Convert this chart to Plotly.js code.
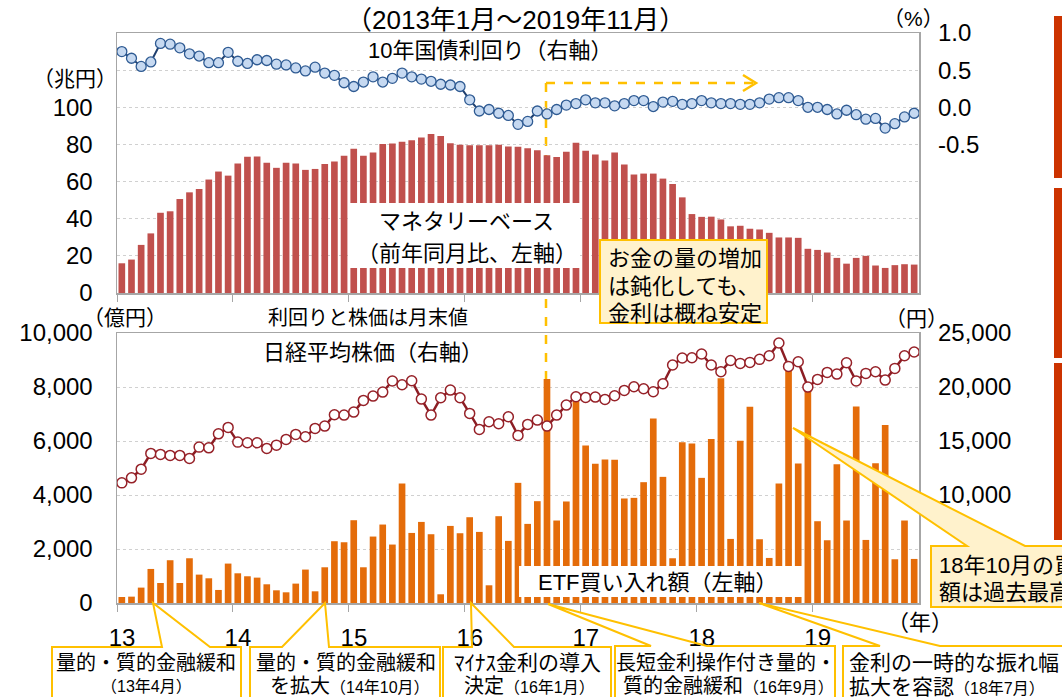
<!DOCTYPE html>
<html><head><meta charset="utf-8">
<script src="https://cdn.plot.ly/plotly-3.0.1.min.js"></script>
<style>html,body{margin:0;padding:0;background:#fff}#chart{width:1062px;height:697px}</style>
</head><body><div id="chart"></div>
<script>
// ---- data ----
const years = [2013, 2014, 2015, 2016, 2017, 2018, 2019];
const yearLabels = ['13', '14', '15', '16', '17', '18', '19'];
const lastMonth2019 = 11;
const months = [];
years.forEach(y => { const n = (y === 2019) ? lastMonth2019 : 12; for (let m = 1; m <= n; m++) months.push(y + '年' + m + '月'); });

// マネタリーベース（前年同月比、兆円） left axis top
const monetaryBase = [
  16.0, 18.0, 25.9, 32.1, 43.2, 44.0, 50.6, 54.2, 56.0, 61.1, 65.4, 63.2,
  69.7, 73.3, 73.5, 70.1, 67.4, 70.1, 69.7, 66.3, 66.8, 69.5, 70.8, 73.9,
  77.7, 73.9, 75.7, 80.2, 80.5, 81.4, 82.3, 83.7, 85.6, 84.5, 80.7, 79.8,
  79.6, 79.5, 79.5, 79.8, 78.9, 78.7, 78.0, 76.9, 74.2, 73.2, 76.0, 80.9,
  76.6, 74.6, 71.4, 75.7, 69.2, 63.8, 64.3, 64.3, 61.6, 58.7, 51.5, 42.5,
  41.0, 41.1, 39.6, 35.9, 36.2, 34.6, 34.2, 32.4, 29.9, 29.9, 29.7, 23.8,
  23.2, 21.8, 18.9, 15.8, 18.9, 20.0, 14.8, 13.5, 15.0, 15.5, 15.3
];
// 10年国債利回り（%） right axis top
const jgb10y = [
  0.75, 0.66, 0.55, 0.61, 0.86, 0.85, 0.80, 0.72, 0.69, 0.60, 0.60, 0.74,
  0.62, 0.59, 0.64, 0.63, 0.58, 0.57, 0.53, 0.49, 0.54, 0.46, 0.43, 0.33,
  0.28, 0.34, 0.41, 0.34, 0.39, 0.46, 0.41, 0.38, 0.35, 0.31, 0.30, 0.28,
  0.10, -0.05, -0.03, -0.08, -0.11, -0.23, -0.19, -0.05, -0.09, -0.03, 0.03, 0.05,
  0.10, 0.06, 0.06, 0.02, 0.05, 0.09, 0.09, 0.01, 0.07, 0.08, 0.04, 0.05,
  0.09, 0.06, 0.05, 0.05, 0.04, 0.04, 0.06, 0.11, 0.13, 0.13, 0.09, 0.00,
  0.00, -0.03, -0.09, -0.04, -0.10, -0.16, -0.15, -0.28, -0.22, -0.13, -0.08
];
// ETF買い入れ額（億円） left axis bottom
const etf = [
  222, 235, 570, 1261, 742, 1584, 742, 1657, 1051, 915, 483, 1460,
  1100, 990, 940, 693, 470, 396, 718, 1238, 433, 1323, 2288, 2250,
  3066, 1323, 2461, 2906, 2165, 4426, 2595, 3003, 2547, 323, 2855, 2584,
  3177, 2633, 656, 3215, 2300, 4450, 2930, 3771, 8295, 3055, 3760, 7468,
  5836, 5154, 5317, 5302, 3871, 3894, 4475, 6837, 4672, 1657, 5958, 5910,
  4635, 6070, 8320, 2373, 6008, 7268, 2361, 1669, 4426, 8603, 5168, 7849,
  3029, 2324, 5143, 3055, 7282, 2336, 5180, 6589, 1620, 3055, 1632
];
// 日経平均株価（円） right axis bottom
const nikkei = [
  11123, 11587, 12393, 13849, 13756, 13663, 13663, 13385, 14433, 14368, 15666, 16259,
  14896, 14833, 14833, 14312, 14618, 15146, 15610, 15394, 16166, 16382, 17430, 17399,
  17677, 18759, 19160, 19531, 20551, 20211, 20582, 18883, 17399, 19003, 19716, 19003,
  17556, 16073, 16778, 16593, 17242, 15517, 16537, 16936, 16380, 17399, 18326, 19095,
  19034, 19065, 18850, 19189, 19683, 20023, 19838, 19559, 20301, 22033, 22682, 22713,
  23053, 22033, 21414, 22450, 22187, 22280, 22558, 22898, 24072, 21909, 22342, 19994,
  20704, 21353, 21198, 22249, 20551, 21261, 21414, 20643, 21724, 22898, 23238
];
const mbTicks = [0, 20, 40, 60, 80, 100, 120];
const mbTickText = ['0', '20', '40', '60', '80', '100', ''];
const jgbTicks = [-0.5, 0, 0.5, 1.0];
const jgbTickText = ['-0.5', '0.0', '0.5', '1.0'];
const etfTicks = [0, 2000, 4000, 6000, 8000, 10000];
const etfTickText = ['0', '2,000', '4,000', '6,000', '8,000', '10,000'];
const nkTicks = [10000, 15000, 20000, 25000];
const nkTickText = ['10,000', '15,000', '20,000', '25,000'];

// ---- layout helpers ----
const W = 1062, H = 697, ML = 117, MR = 143, MT = 33, MB = 94;
const PW = W - ML - MR, PH = H - MT - MB;
const X = px => (px - ML) / PW;
const Y = py => (H - MB - py) / PH;
const F = 'Liberation Sans, Noto Sans CJK JP, sans-serif';
const GOLD = '#ffc000', CREAM = '#fff2cc', AX = '#a6a6a6';

const xIdx = months.map((m, i) => i);
const yearTickVals = years.map((y, k) => k * 12 - 0.5);

const traces = [
  { type: 'bar', x: xIdx, y: monetaryBase, xaxis: 'x2', yaxis: 'y3', marker: { color: '#c0504d' }, hoverinfo: 'skip' },
  { type: 'scatter', mode: 'lines+markers', x: xIdx, y: jgb10y, xaxis: 'x2', yaxis: 'y4',
    line: { color: '#1f3f6e', width: 2 }, marker: { size: 10, color: '#c6d9f1', line: { color: '#2f5b93', width: 1.3 } }, hoverinfo: 'skip' },
  { type: 'bar', x: xIdx, y: etf, xaxis: 'x', yaxis: 'y', marker: { color: '#e46c0a' }, hoverinfo: 'skip' },
  { type: 'scatter', mode: 'lines+markers', x: xIdx, y: nikkei, xaxis: 'x', yaxis: 'y2',
    line: { color: '#8c1d24', width: 2.5 }, marker: { size: 10, color: '#ffffff', line: { color: '#962128', width: 1.5 } }, hoverinfo: 'skip' }
];

const xBase = {
  range: [-0.5, months.length - 0.5], tickmode: 'array', tickvals: yearTickVals, ticktext: yearLabels,
  ticks: 'outside', ticklen: 7, tickcolor: AX, showline: true, mirror: true, linecolor: AX, linewidth: 1.5,
  showgrid: false, zeroline: false, tickfont: { size: 24, family: F, color: '#000' }, ticklabelstandoff: 6, ticklabelshift: 5
};
const yBase = { showline: true, mirror: true, linecolor: AX, linewidth: 1.5, zeroline: false, ticks: '',
  tickfont: { size: 24, family: F, color: '#000' }, gridcolor: '#d0d0d0', griddash: 'dot', gridwidth: 1, tickmode: 'array' };

function ann(text, px, py, size, opt) {
  return Object.assign({ text: text, xref: 'paper', yref: 'paper', x: X(px), y: Y(py), xanchor: 'center', yanchor: 'middle',
    showarrow: false, font: { size: size, family: F, color: '#000' } }, opt || {});
}
function path(pts, close) {
  return 'M' + pts.map(p => X(p[0]).toFixed(5) + ',' + Y(p[1]).toFixed(5)).join('L') + (close ? 'Z' : '');
}
function rect(x0, y0, x1, y1, fill, lineColor, lw, layer) {
  return { type: 'rect', xref: 'paper', yref: 'paper', x0: X(x0), x1: X(x1), y0: Y(y1), y1: Y(y0),
    fillcolor: fill, line: { color: lineColor || fill, width: lw || 0 }, layer: layer || 'above' };
}
function callout(pts, fill) {
  return { type: 'path', xref: 'paper', yref: 'paper', path: path(pts, true), fillcolor: fill, line: { color: GOLD, width: 2 }, layer: 'above' };
}
const sm = t => '<span style="font-size:16px">' + t + '</span>';
const CLEAR = 'rgba(255,255,255,0)';

const shapes = [
  // decorative bars at right edge
  rect(1054, 16, 1066, 178, '#cc3300'), rect(1054, 188, 1066, 358, '#cc3300'), rect(1054, 363, 1066, 540, '#cc3300'),
  // white label boxes
  rect(349, 203, 580, 268, '#ffffff'),
  rect(519, 566, 802, 597, '#ffffff'),
  // top callout
  rect(600, 240, 767, 323, CREAM, GOLD, 2),
  // dashed guide lines (behind bars)
  { type: 'line', xref: 'paper', yref: 'paper', x0: X(546), x1: X(546), y0: Y(83), y1: Y(379), line: { color: GOLD, width: 2.5, dash: 'dash' }, layer: 'below' },
  { type: 'line', xref: 'paper', yref: 'paper', x0: X(546), x1: X(754), y0: Y(83), y1: Y(83), line: { color: GOLD, width: 2.5, dash: 'dash' }, layer: 'below' },
  { type: 'path', xref: 'paper', yref: 'paper', path: path([[743, 75], [756, 83], [743, 91]], false), line: { color: GOLD, width: 2.5 }, layer: 'below' },
  // bottom-right callout (18年10月)
  callout([[931, 546], [967, 546], [793, 428], [1025, 546], [1070, 546], [1070, 607], [931, 607]], CREAM),
  // bottom callouts
  callout([[52, 647], [162, 647], [153, 603], [210, 647], [241, 647], [241, 702], [52, 702]], CLEAR),
  callout([[250, 647], [282, 647], [325, 603], [329, 647], [440, 647], [440, 702], [250, 702]], CLEAR),
  callout([[443, 647], [472, 647], [471, 603], [514, 647], [611, 647], [611, 702], [443, 702]], CLEAR),
  callout([[615, 646], [651, 646], [548, 604], [707, 646], [835, 646], [835, 702], [615, 702]], CLEAR),
  callout([[843, 646], [880, 646], [759, 603], [940, 646], [1070, 646], [1070, 702], [843, 702]], CLEAR)
];

const annotations = [
  ann('（2013年1月～2019年11月）', 515, 20, 26),
  ann('10年国債利回り（右軸）', 490, 51, 22),
  ann('（%）', 913, 19, 21),
  ann('（兆円）', 75, 78, 21),
  ann('マネタリーベース', 466, 221, 22),
  ann('（前年同月比、左軸）', 467, 253, 22),
  ann('お金の量の増加', 606, 258, 22, { xanchor: 'left' }),
  ann('は鈍化しても、', 606, 286, 22, { xanchor: 'left' }),
  ann('金利は概ね安定', 606, 313, 22, { xanchor: 'left' }),
  ann('利回りと株価は月末値', 368, 318, 20),
  ann('（億円）', 125, 317, 21),
  ann('（円）', 916, 318, 21),
  ann('日経平均株価（右軸）', 373, 352, 22),
  ann('ETF買い入れ額（左軸）', 658, 582, 22),
  ann('（年）', 920, 622, 22),
  ann('18年10月の買い入れ', 937, 565, 22, { xanchor: 'left' }),
  ann('額は過去最高', 937, 592, 22, { xanchor: 'left' }),
  ann('量的・質的金融緩和', 146, 663, 20),
  ann(sm('（13年4月）'), 146, 686, 16),
  ann('量的・質的金融緩和', 346, 663, 20),
  ann('を拡大' + sm('（14年10月）'), 350, 686, 20),
  ann('ﾏｲﾅｽ金利の導入', 527, 663, 21),
  ann('決定' + sm('（16年1月）'), 529, 686, 20),
  ann('長短金利操作付き量的・', 726, 663, 20),
  ann('質的金融緩和' + sm('（16年9月）'), 728, 686, 20),
  ann('金利の一時的な振れ幅', 847, 663, 21, { xanchor: 'left' }),
  ann('拡大を容認' + sm('（18年7月）'), 847, 686, 21, { xanchor: 'left' })
];

const layout = {
  width: W, height: H, margin: { l: ML, r: MR, t: MT, b: MB, pad: 0 },
  paper_bgcolor: '#ffffff', plot_bgcolor: 'rgba(0,0,0,0)', showlegend: false, bargap: 0.31,
  font: { family: F, color: '#000' },
  xaxis: Object.assign({}, xBase, { domain: [0, 1], anchor: 'y' }),
  xaxis2: Object.assign({}, xBase, { domain: [0, 1], anchor: 'y3', showticklabels: false }),
  yaxis: Object.assign({}, yBase, { domain: [0, Y(333)], anchor: 'x', range: [0, 10000], tickvals: etfTicks, ticktext: etfTickText, showgrid: true, ticklabelstandoff: 18 }),
  yaxis2: Object.assign({}, yBase, { overlaying: 'y', side: 'right', anchor: 'x', range: [0, 25000], tickvals: nkTicks, ticktext: nkTickText, showgrid: false, showline: false, ticklabelstandoff: 18 }),
  yaxis3: Object.assign({}, yBase, { domain: [Y(293), 1], anchor: 'x2', range: [0, 140], tickvals: mbTicks, ticktext: mbTickText, showgrid: true, ticklabelstandoff: 18 }),
  yaxis4: Object.assign({}, yBase, { overlaying: 'y3', side: 'right', anchor: 'x2', range: [-2.5, 1.0], tickvals: jgbTicks, ticktext: jgbTickText, showgrid: false, showline: false, ticklabelstandoff: 18 }),
  shapes: shapes,
  annotations: annotations
};

Plotly.newPlot('chart', traces, layout, { displayModeBar: false, staticPlot: true });
</script>
</body></html>
